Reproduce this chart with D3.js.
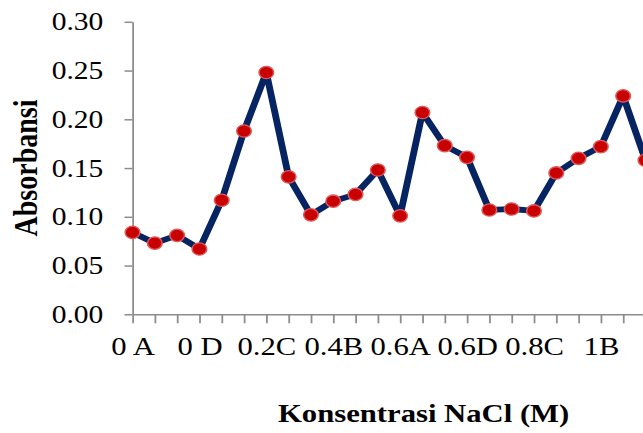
<!DOCTYPE html>
<html>
<head>
<meta charset="utf-8">
<script src="https://cdn.jsdelivr.net/npm/d3@7"></script>
<style>
  body { margin: 0; background: #fff; }
  text { font-family: "Liberation Serif", "Times New Roman", serif; fill: #000; }
</style>
</head>
<body>
<script>
// categories (konsentrasi + sampel) and absorbance values
const categories = ["0 A", "0 B", "0 C", "0 D",
  "0.2A", "0.2B", "0.2C", "0.2D",
  "0.4A", "0.4B", "0.4C", "0.4D",
  "0.6A", "0.6B", "0.6C", "0.6D",
  "0.8A", "0.8B", "0.8C", "0.8D",
  "1A", "1B", "1C", "1D"]
const absorbansi = [0.084, 0.073, 0.081, 0.067,
  0.117, 0.188, 0.248, 0.141,
  0.102, 0.116, 0.123, 0.148,
  0.101, 0.207, 0.173, 0.161,
  0.107, 0.108, 0.106, 0.145,
  0.160, 0.172, 0.224, 0.158]
const yTicks = [0, 0.05, 0.10, 0.15, 0.20, 0.25, 0.30]

const W = 643
const H = 433
const sx = 1.18 // picture is stretched sideways

const svg = d3.select("body")
  .append("svg")
  .attr("width", W)
  .attr("height", H)

const g = svg.append("g").attr("transform", "scale(" + sx + ",1)")

const x = d3.scalePoint()
  .domain(categories)
  .range([112.3, 547])
  .padding(0)

const y = d3.scaleLinear()
  .domain([0, 0.3])
  .range([314.3, 21.8])

// y axis
const yAxis = g.append("g")
  .attr("transform", "translate(112.3,0)")
  .call(d3.axisLeft(y).tickValues(yTicks).tickFormat(d3.format(".2f")).tickSize(6.8).tickSizeOuter(0).tickPadding(18))
yAxis.selectAll("text").style("font-size", "25px")

// x axis
const xAxis = g.append("g")
  .attr("transform", "translate(0," + y(0) + ")")
  .call(d3.axisBottom(x).tickSize(9).tickSizeOuter(0).tickPadding(13)
    .tickFormat((d, i) => i % 3 === 0 ? d : ""))
xAxis.selectAll("text").style("font-size", "26px")

svg.selectAll(".domain, .tick line")
  .attr("stroke", "#8c8c8c")
  .attr("stroke-width", 1.5)

// line
const line = d3.line()
  .x((d, i) => x(categories[i]))
  .y(d => y(d))

g.append("path")
  .datum(absorbansi)
  .attr("d", line)
  .attr("fill", "none")
  .attr("stroke", "#062462")
  .attr("stroke-width", 5.8)
  .attr("stroke-linejoin", "round")

g.selectAll("circle")
  .data(absorbansi)
  .enter()
  .append("circle")
  .attr("cx", (d, i) => x(categories[i]))
  .attr("cy", d => y(d))
  .attr("r", 6.2)
  .attr("fill", "#c80000")
  .attr("stroke", "#e05a5a")
  .attr("stroke-width", 1.3)

// axis titles
g.append("text")
  .attr("x", 359)
  .attr("y", 422)
  .attr("text-anchor", "middle")
  .style("font-size", "26px")
  .style("font-weight", "bold")
  .text("Konsentrasi NaCl (M)")

g.append("text")
  .attr("transform", "translate(31,168) rotate(-90)")
  .attr("text-anchor", "middle")
  .style("font-size", "28px")
  .style("font-weight", "bold")
  .text("Absorbansi")
</script>
</body>
</html>
